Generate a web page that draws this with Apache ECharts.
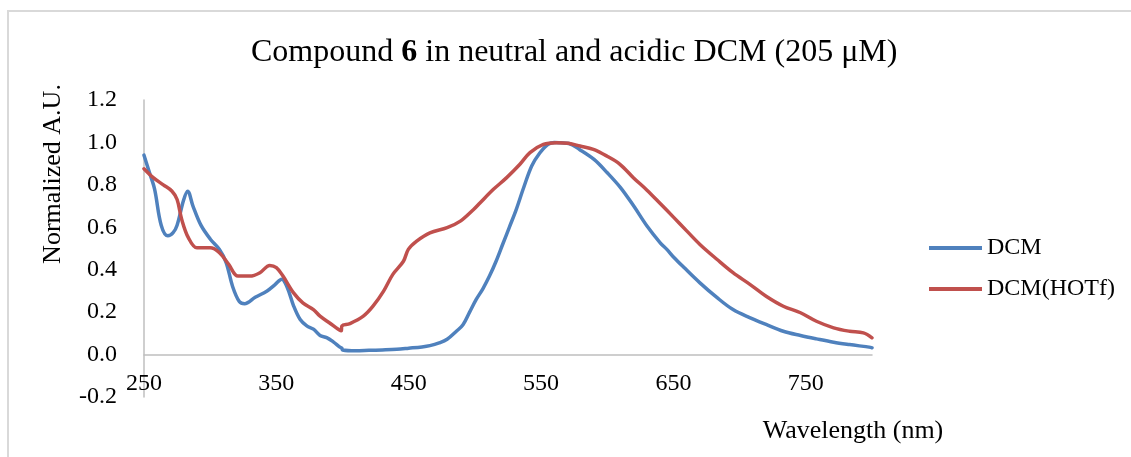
<!DOCTYPE html>
<html>
<head>
<meta charset="utf-8">
<script src="https://cdn.jsdelivr.net/npm/echarts@6/dist/echarts.min.js"></script>
<style>html,body{margin:0;padding:0;background:#fff;}#c{width:1131px;height:457px;}</style>
</head>
<body>
<div id="c"></div>
<script>
const seriesNames = ['DCM', 'DCM(HOTf)'];
const xTickLabels = [250, 350, 450, 550, 650, 750];
const yTickLabels = [-0.2, 0, 0.2, 0.4, 0.6, 0.8, 1.0, 1.2];

const dcmWavelength = [250,254,258,263,268,272,275,280,283,287,293,300,307,312,317,322,326,334,343,349,354,358,363,368,373,378,383,388,393,398,399.5,400,410,420,430,441,450,460,466,473,479,486,491,496,501,506,511,516,521,526,531,537,543,549,555,560,565,571,579,590,600,610,620,630,640,645,650,658,670,683,695,708,720,733,746,758,771,783,799,800];
const dcmValue = [0.94,0.86,0.78,0.61,0.56,0.575,0.61,0.73,0.77,0.70,0.61,0.545,0.495,0.435,0.32,0.25,0.24,0.27,0.30,0.33,0.355,0.32,0.23,0.165,0.135,0.12,0.09,0.08,0.06,0.035,0.03,0.022,0.018,0.02,0.022,0.025,0.03,0.036,0.042,0.055,0.072,0.11,0.14,0.2,0.26,0.31,0.37,0.44,0.52,0.60,0.68,0.79,0.89,0.95,0.99,1.0,0.998,0.995,0.967,0.92,0.857,0.787,0.70,0.606,0.527,0.496,0.46,0.41,0.338,0.268,0.212,0.173,0.142,0.11,0.09,0.074,0.058,0.047,0.034,0.032];

const hotfWavelength = [250,257,264.6,271,275,278.5,283.5,290,300,307,314,321,330,337.6,345,350,355,363,370,378,383,390,399,399.5,405.6,415.7,423,431,438,446,449.7,456,466,479,489,499,504,514,524,534,541.6,551.7,561.8,570.6,579.4,589.5,599.6,609.6,619.7,630,640,650,660,670,683,695,708,720,733,746,758,771,783,793.5,800];
const hotfValue = [0.876,0.834,0.80,0.771,0.731,0.637,0.551,0.503,0.503,0.48,0.425,0.37,0.37,0.386,0.42,0.41,0.37,0.291,0.244,0.212,0.181,0.15,0.112,0.135,0.146,0.181,0.228,0.299,0.378,0.44,0.496,0.535,0.574,0.598,0.629,0.684,0.716,0.779,0.834,0.897,0.952,0.991,0.999,0.996,0.983,0.967,0.936,0.897,0.834,0.775,0.712,0.648,0.583,0.519,0.448,0.386,0.33,0.275,0.228,0.197,0.157,0.126,0.11,0.102,0.079];

const zip = (xs, ys) => xs.map((x, i) => [x, ys[i]]);
const FONT = '"Liberation Serif", "Times New Roman", serif';

const chart = echarts.init(document.getElementById('c'), null, {renderer: 'canvas'});
chart.setOption({
  backgroundColor: '#ffffff',
  animation: false,
  title: {
    text: '{a|Compound }{b|6}{a| in neutral and acidic DCM (205 μM)}',
    left: 246, top: 32,
    textStyle: {
      fontWeight: 'normal', fontFamily: FONT, fontSize: 32,
      rich: {
        a: {fontFamily: FONT, fontSize: 32, fontWeight: 'normal', color: '#000'},
        b: {fontFamily: FONT, fontSize: 32, fontWeight: 'bold', color: '#000'}
      }
    }
  },
  grid: {left: 144, right: 259, top: 100, bottom: 60, containLabel: false},
  legend: {
    orient: 'vertical', left: 924, top: 231,
    icon: 'rect', itemWidth: 53, itemHeight: 4, itemGap: 17,
    textStyle: {fontFamily: FONT, fontSize: 24, color: '#000'},
    data: seriesNames
  },
  xAxis: {
    type: 'value', min: 250, max: 800,
    offset: -42,
    axisLine: {show: true, onZero: false, lineStyle: {color: '#bfbfbf', width: 1.5}},
    axisTick: {show: false},
    splitLine: {show: false},
    axisLabel: {customValues: xTickLabels, margin: 17, fontFamily: FONT, fontSize: 24, color: '#000'}
  },
  yAxis: {
    type: 'value', min: -0.2, max: 1.2, interval: 0.2,
    axisLine: {show: true, lineStyle: {color: '#bfbfbf', width: 1.5}},
    axisTick: {show: false},
    splitLine: {show: false},
    axisLabel: {customValues: yTickLabels, margin: 27, fontFamily: FONT, fontSize: 24, color: '#000',
      formatter: v => v.toFixed(1)}
  },
  graphic: [
    {type: 'rect', shape: {x: 8, y: 11, width: 1300, height: 600}, style: {fill: 'none', stroke: '#d9d9d9', lineWidth: 2}, silent: true, z: -10},
    {type: 'text', x: 853, y: 431, style: {text: 'Wavelength (nm)', fontFamily: FONT, fontSize: 26, fill: '#000', textAlign: 'center', textVerticalAlign: 'middle'}},
    {type: 'text', x: 53, y: 174, rotation: Math.PI / 2, style: {text: 'Normalized A.U.', fontFamily: FONT, fontSize: 26, fill: '#000', textAlign: 'center', textVerticalAlign: 'middle'}}
  ],
  series: [
    {name: seriesNames[0], type: 'line', data: zip(dcmWavelength, dcmValue), symbol: 'none', smooth: 0.35,
      lineStyle: {color: '#4F81BD', width: 3.5, cap: 'round', join: 'round'}, itemStyle: {color: '#4F81BD'}},
    {name: seriesNames[1], type: 'line', data: zip(hotfWavelength, hotfValue), symbol: 'none', smooth: 0.35,
      lineStyle: {color: '#C0504D', width: 3.5, cap: 'round', join: 'round'}, itemStyle: {color: '#C0504D'}}
  ]
});
</script>
</body>
</html>
